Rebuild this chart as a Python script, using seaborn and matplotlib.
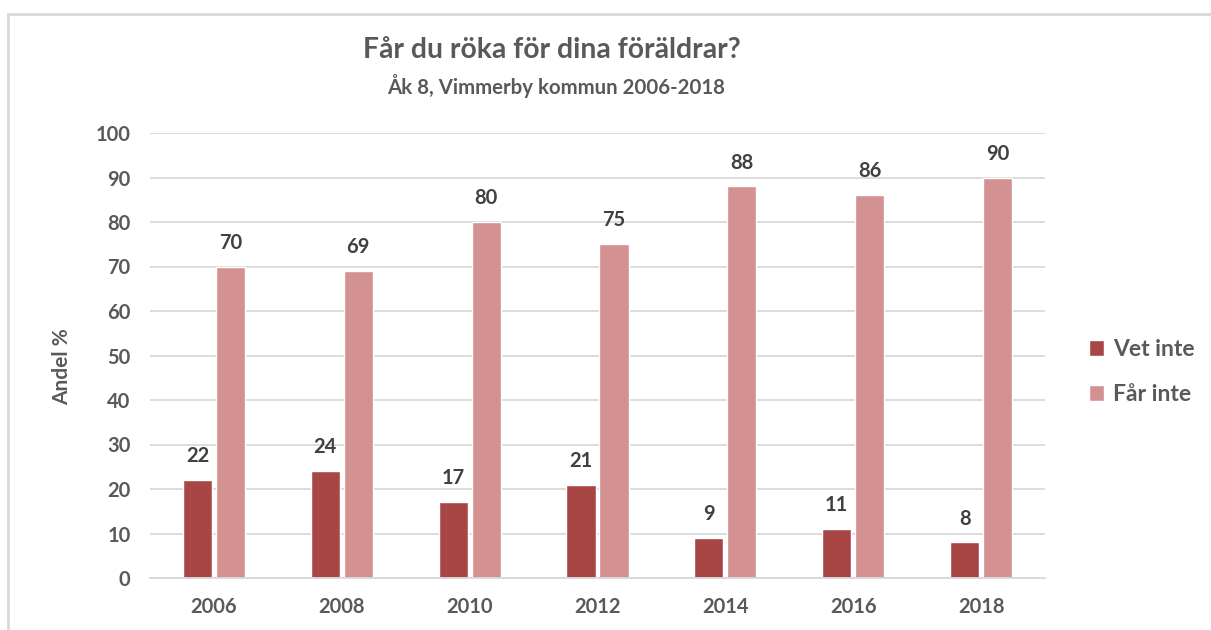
import matplotlib
matplotlib.use("Agg")
import matplotlib.pyplot as plt
import seaborn as sns
import pandas as pd
from matplotlib.patches import Rectangle

years = ["2006", "2008", "2010", "2012", "2014", "2016", "2018"]
vet_inte = [22, 24, 17, 21, 9, 11, 8]
far_inte = [70, 69, 80, 75, 88, 86, 90]
series_names = ["Vet inte", "Får inte"]
colors = ["#A84646", "#D39191"]
title = "Får du röka för dina föräldrar?"
subtitle = "Åk 8, Vimmerby kommun 2006-2018"
ylabel = "Andel %"

df = pd.DataFrame({
    "År": years * 2,
    "Serie": [series_names[0]] * len(years) + [series_names[1]] * len(years),
    "Andel": vet_inte + far_inte,
})

sns.set_theme(style="white")
plt.rcParams["font.family"] = ["Lato", "DejaVu Sans"]
plt.rcParams["font.weight"] = "bold"
txt = "#595959"
W = "bold"

fig = plt.figure(figsize=(12.11, 6.3), dpi=100)
ax = fig.add_axes([150/1211, 1-578/630, (1045-150)/1211, (578-133)/630])

sns.barplot(data=df, x="År", y="Andel", hue="Serie", palette=colors,
            width=0.516, gap=0.12, ax=ax, saturation=1, legend=True)

ax.set_ylim(0, 100)
ax.set_yticks(range(0, 101, 10))
ax.yaxis.grid(True, color="#D9D9D9", linewidth=1.3)
ax.set_axisbelow(True)
for s in ["top", "right", "left"]:
    ax.spines[s].set_visible(False)
ax.spines["bottom"].set_color("#D9D9D9")
ax.spines["bottom"].set_linewidth(1.3)
ax.tick_params(axis="both", length=0, labelsize=14.5, labelcolor=txt)
ax.tick_params(axis="x", pad=14)
ax.tick_params(axis="y", pad=14)
for lbl in ax.get_xticklabels() + ax.get_yticklabels():
    lbl.set_fontweight(W)
ax.set_xlabel("")
ax.set_ylabel(ylabel, fontsize=15, color=txt, fontweight=W)
ax.yaxis.set_label_coords((72-150)/895, (578-367)/445)

for cont in ax.containers:
    ax.bar_label(cont, padding=10, fontsize=14.5, color="#404040", fontweight=W)

leg = ax.legend(loc="center left", bbox_to_anchor=((1068-150)/895, (578-372)/445),
                frameon=False, fontsize=16.5, handlelength=0.65, handleheight=0.65,
                labelspacing=1.05, handletextpad=0.4)
for t in leg.get_texts():
    t.set_color(txt)
    t.set_fontweight(W)

fig.text(552/1211, 1-50/630, title, ha="center", va="center", fontsize=20.3,
         color=txt, fontweight=W)
fig.text(556/1211, 1-86/630, subtitle, ha="center", va="center", fontsize=14.7,
         color=txt, fontweight=W)

fig.patches.append(Rectangle((8/1211, -0.1), 1.2, 1-14/630 + 0.1,
                             transform=fig.transFigure, fill=False,
                             edgecolor="#D9D9D9", linewidth=2))

fig.savefig("out.png", dpi=100, facecolor="white")
